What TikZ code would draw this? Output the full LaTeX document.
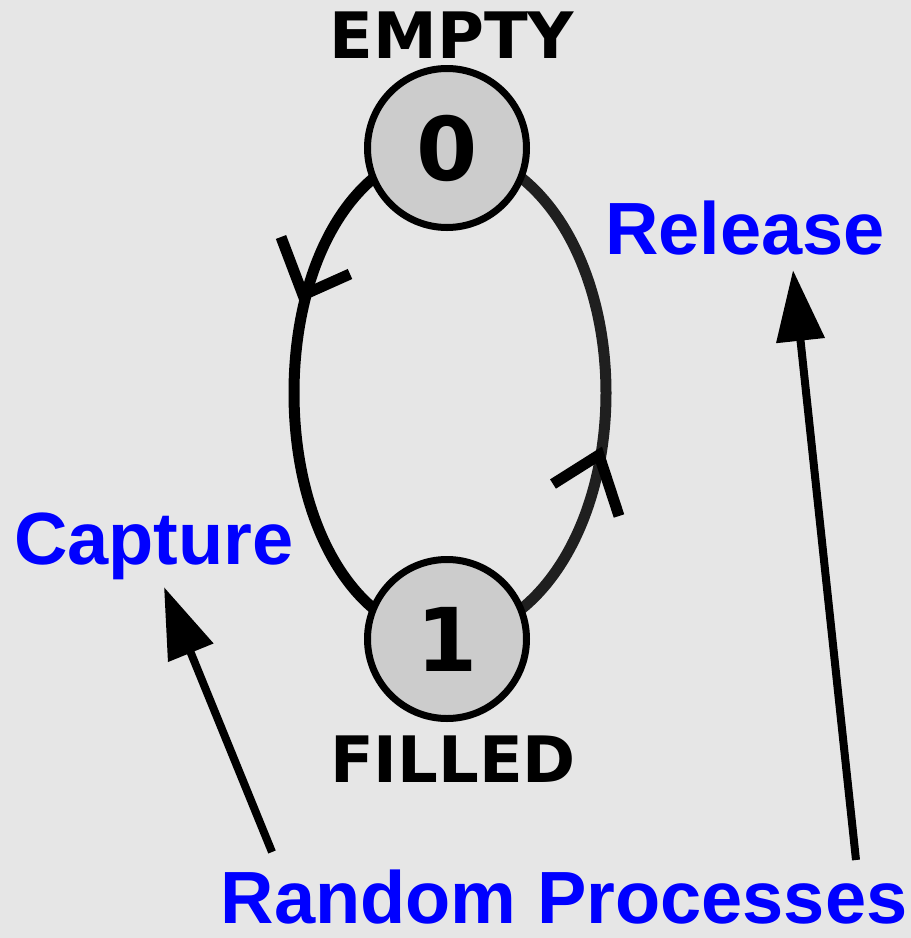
\documentclass[tikz,border=0pt]{standalone}
\usepackage{fontspec}
\usetikzlibrary{arrows.meta}
\newfontfamily\labelfont{Liberation Sans}
\newfontfamily\statefont{DejaVu Sans}
\definecolor{paper}{HTML}{E6E6E6}
\definecolor{statefill}{HTML}{CCCCCC}
\definecolor{procblue}{HTML}{0000FF}
\pgfdeclarelayer{loop}
\pgfsetlayers{loop,main}
\tikzset{
  statenode/.style={circle, draw=black, line width=7pt, fill=statefill,
    minimum size=159pt, inner sep=0pt,
    font=\statefont\bfseries\fontsize{88}{90}\selectfont},
  statename/.style={anchor=base, inner sep=0pt,
    font=\statefont\bfseries\fontsize{64}{70}\selectfont},
  proclabel/.style={anchor=base, inner sep=0pt, text=procblue,
    font=\labelfont\bfseries\fontsize{74}{80}\selectfont},
  loopline/.style={line width=11pt, draw=black},
  chevron/.style={line width=11pt, draw=black, line join=miter, line cap=butt},
  pointer/.style={line width=8pt, draw=black,
    -{Triangle[length=71pt, width=47pt]}}
}
\begin{document}
\begin{tikzpicture}[x=1pt, y=-1pt]
  \useasboundingbox (0,0) rectangle (911,938);

  % states
  \node[statenode] (n0) at (447,148) {0};
  \node[statenode] (n1) at (447,639) {1};
  \node[statename] (empty) at (452,58) {EMPTY};
  \node[statename] (filled) at (453,782) {FILLED};

  % side points of the oval loop
  \coordinate (lw) at (294,393);
  \coordinate (re) at (606,393);

  \begin{pgfonlayer}{loop}
    % canvas
    \fill[paper] (0,0) rectangle (911,938);
    % capture: 0 -> 1 down the left side
    \draw[loopline] (n0.center) .. controls +(-94,6) and +(0,-130) .. (lw)
                    .. controls +(0,130) and +(-94,-6) .. (n1.center);
    % release: 1 -> 0 up the right side
    \draw[loopline, draw=black!88] (n1.center) .. controls +(94,-6) and +(0,130) .. (re)
                    .. controls +(0,-130) and +(94,6) .. (n0.center);
  \end{pgfonlayer}

  % open direction marks on the loop
  \draw[chevron] (281,237) -- (303,295) -- (350,274);
  \draw[chevron] (553,484) -- (599,455) -- (619,516);

  % process labels
  \node[proclabel] (capture) at (154,564) {Capture};
  \node[proclabel] (release) at (745,254) {Release};
  \node[proclabel] (random) at (564,923) {Random Processes};

  % pointers from the random processes label
  \coordinate (capTail) at (272,852);
  \coordinate (capTip) at (164,587);
  \coordinate (relTail) at (856,860);
  \coordinate (relTip) at (793,270);
  \draw[pointer] (capTail) -- (capTip);
  \draw[pointer] (relTail) -- (relTip);
\end{tikzpicture}
\end{document}
